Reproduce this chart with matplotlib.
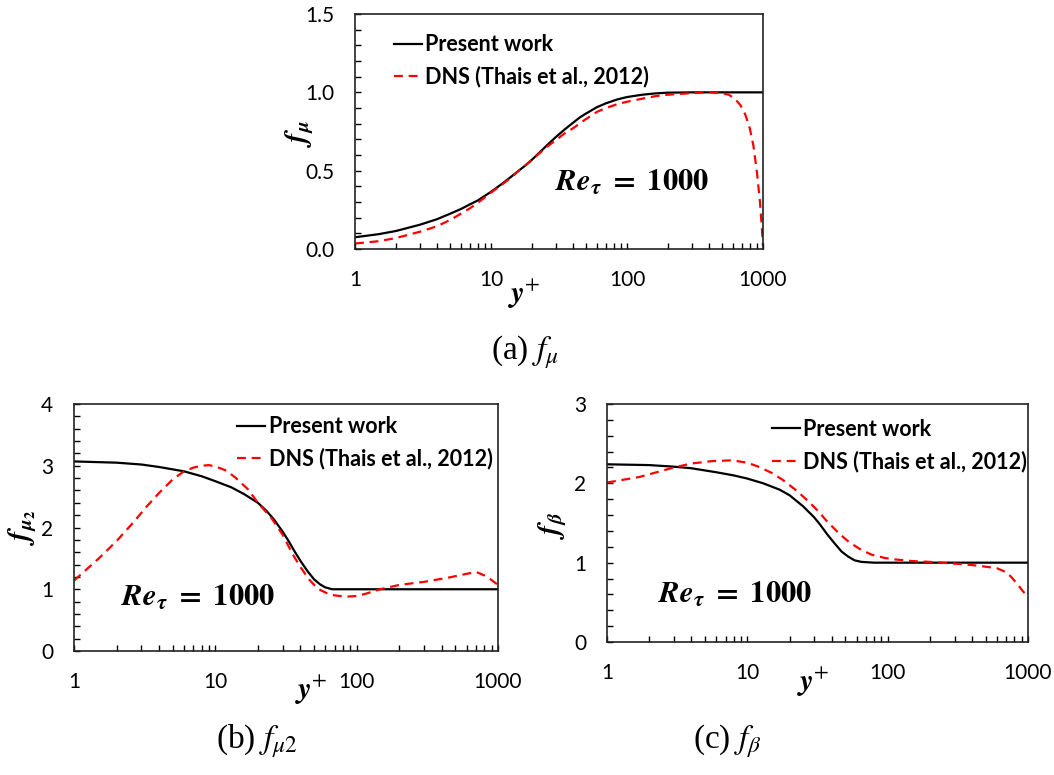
import numpy as np
import matplotlib
matplotlib.use('Agg')
import matplotlib.pyplot as plt
import matplotlib.ticker as mticker

plt.rcParams['font.family'] = ['Lato', 'DejaVu Sans']
plt.rcParams['mathtext.fontset'] = 'stix'

# (a) f_mu
a_pw_x = [1, 1.5, 2, 3, 4, 5, 6, 7, 8, 10, 12, 14, 16, 18, 20, 23, 26, 30, 35, 40, 45, 50, 60, 70, 85, 100, 130, 160, 200, 300, 1000]
a_pw_y = [0.075, 0.095, 0.115, 0.155, 0.19, 0.225, 0.255, 0.285, 0.31, 0.365, 0.415, 0.46, 0.50, 0.535, 0.57, 0.62, 0.665, 0.715, 0.765, 0.805, 0.84, 0.865, 0.905, 0.93, 0.955, 0.97, 0.985, 0.993, 0.998, 1.0, 1.0]
a_dns_x = [1, 1.5, 2, 3, 4, 5, 6, 7, 8, 10, 12, 14, 16, 18, 20, 23, 26, 30, 35, 40, 50, 60, 70, 85, 100, 130, 160, 200, 300, 400, 500, 560, 620, 680, 740, 800, 850, 900, 950, 980, 1000]
a_dns_y = [0.035, 0.05, 0.07, 0.11, 0.145, 0.185, 0.225, 0.26, 0.295, 0.36, 0.41, 0.455, 0.50, 0.535, 0.57, 0.615, 0.655, 0.695, 0.74, 0.77, 0.83, 0.875, 0.90, 0.925, 0.94, 0.96, 0.975, 0.985, 0.995, 1.0, 0.995, 0.985, 0.96, 0.92, 0.86, 0.77, 0.66, 0.50, 0.30, 0.14, 0.02]

# (b) f_mu2
b_pw_x = [1, 2, 3, 4, 6, 8, 10, 13, 16, 20, 23, 26, 30, 33, 36, 40, 45, 50, 55, 60, 67, 80, 100, 1000]
b_pw_y = [3.07, 3.05, 3.02, 2.98, 2.91, 2.83, 2.75, 2.65, 2.54, 2.40, 2.27, 2.13, 1.93, 1.78, 1.63, 1.46, 1.29, 1.16, 1.08, 1.03, 1.0, 1.0, 1.0, 1.0]
b_dns_x = [1, 1.5, 2, 2.6, 3.3, 4, 5, 6, 7, 8, 9, 10, 12, 14, 17, 20, 25, 30, 35, 40, 46, 53, 61, 70, 84, 100, 117, 147, 200, 300, 450, 600, 700, 830, 1000]
b_dns_y = [1.14, 1.50, 1.78, 2.07, 2.35, 2.56, 2.78, 2.91, 2.97, 3.0, 3.01, 2.99, 2.92, 2.80, 2.62, 2.40, 2.15, 1.88, 1.58, 1.36, 1.16, 1.01, 0.94, 0.90, 0.88, 0.89, 0.93, 1.0, 1.07, 1.12, 1.19, 1.25, 1.28, 1.21, 1.07]

# (c) f_beta
c_pw_x = [1, 2, 3, 4, 6, 8, 10, 13, 17, 20, 25, 30, 33, 37, 42, 47, 52, 58, 65, 80, 100, 1000]
c_pw_y = [2.24, 2.23, 2.21, 2.19, 2.14, 2.10, 2.06, 2.0, 1.92, 1.85, 1.71, 1.57, 1.48, 1.36, 1.24, 1.14, 1.08, 1.03, 1.01, 1.0, 1.0, 1.0]
c_dns_x = [1, 1.7, 3, 4, 5.6, 7.8, 10, 12, 15, 18, 22, 27, 32, 37, 45, 53, 65, 77, 95, 114, 150, 200, 350, 450, 600, 700, 760, 850, 920, 1000]
c_dns_y = [2.01, 2.08, 2.20, 2.25, 2.28, 2.29, 2.26, 2.21, 2.13, 2.04, 1.92, 1.78, 1.65, 1.52, 1.37, 1.26, 1.16, 1.10, 1.06, 1.04, 1.02, 1.01, 0.98, 0.96, 0.93, 0.88, 0.82, 0.72, 0.64, 0.57]

fig = plt.figure(figsize=(10.54, 7.75), dpi=100)
ax_a = fig.add_axes([0.3368, 0.6787, 0.3871, 0.3032])
ax_b = fig.add_axes([0.0702, 0.1600, 0.4023, 0.3187])
ax_c = fig.add_axes([0.5759, 0.1716, 0.3994, 0.3071])

panels = [
    (ax_a, a_pw_x, a_pw_y, a_dns_x, a_dns_y, 1.5, 0.5, 0.1, '%.1f',
     r'$\mathbfit{f}_{\mathbfit{\mu}}$', (-0.135, 0.49), (0.415, -0.195),
     (0.075, 0.95), (0.49, 0.285), r'(a) $f_{\mu}$', (0.4981, 0.545)),
    (ax_b, b_pw_x, b_pw_y, b_dns_x, b_dns_y, 4, 1, 0.2, '%d',
     r'$\mathbfit{f}_{\mathbfit{\mu}_{\mathbf{2}}}$', (-0.122, 0.50), (0.56, -0.16),
     (0.365, 0.985), (0.11, 0.215), r'(b) $f_{\mu2}$', (0.244, 0.043)),
    (ax_c, c_pw_x, c_pw_y, c_dns_x, c_dns_y, 3, 1, 0.2, '%d',
     r'$\mathbfit{f}_{\mathbfit{\beta}}$', (-0.128, 0.49), (0.49, -0.17),
     (0.372, 0.975), (0.12, 0.20), r'(c) $f_{\beta}$', (0.69, 0.043)),
]

for (ax, px, py, dx, dy, ymax, major, minor, fmt, ylab, ylpos, xlpos,
     legpos, repos, cap, cappos) in panels:
    ax.plot(px, py, color='black', lw=1.6, label='Present work')
    ax.plot(dx, dy, color='red', lw=1.6, ls=(0, (4, 2.6)), label='DNS (Thais et al., 2012)')
    ax.set_xscale('log')
    ax.set_xlim(1, 1000)
    ax.set_ylim(0, ymax)
    ax.xaxis.set_major_locator(mticker.FixedLocator([1, 10, 100, 1000]))
    ax.xaxis.set_major_formatter(mticker.FixedFormatter(['1', '10', '100', '1000']))
    ax.xaxis.set_minor_locator(mticker.LogLocator(base=10, subs=np.arange(2, 10)))
    ax.xaxis.set_minor_formatter(mticker.NullFormatter())
    ax.yaxis.set_major_locator(mticker.MultipleLocator(major))
    ax.yaxis.set_minor_locator(mticker.MultipleLocator(minor))
    ax.yaxis.set_major_formatter(mticker.FormatStrFormatter(fmt))
    ax.tick_params(axis='both', which='both', direction='in', length=4.5, width=1,
                   labelsize=15, colors='black')
    ax.tick_params(axis='x', which='both', pad=15)
    ax.tick_params(axis='y', which='both', pad=15)
    for s in ax.spines.values():
        s.set_linewidth(1.2)
        s.set_color('#222222')
    # axis titles
    ax.text(ylpos[0], ylpos[1], ylab, transform=ax.transAxes, fontsize=21,
            rotation=90, ha='center', va='center')
    ax.text(xlpos[0], xlpos[1], r'$\mathbfit{y}^{+}$', transform=ax.transAxes,
            fontsize=22, ha='center', va='center')
    ax.text(repos[0], repos[1], r'$\mathbfit{Re}_{\mathbfit{\tau}}\ \mathbf{=\ 1000}$',
            transform=ax.transAxes, fontsize=22, ha='left', va='center')
    ax.legend(loc='upper left', bbox_to_anchor=legpos, frameon=False,
              prop={'family': 'Lato', 'weight': 'bold', 'size': 15.5},
              handlelength=1.3, handletextpad=0.15, labelspacing=0.5,
              borderaxespad=0.2, borderpad=0.2)
    fig.text(cappos[0], cappos[1], cap, fontsize=24, family='Liberation Serif',
             ha='center', va='center')

fig.savefig('out.png', dpi=100)
